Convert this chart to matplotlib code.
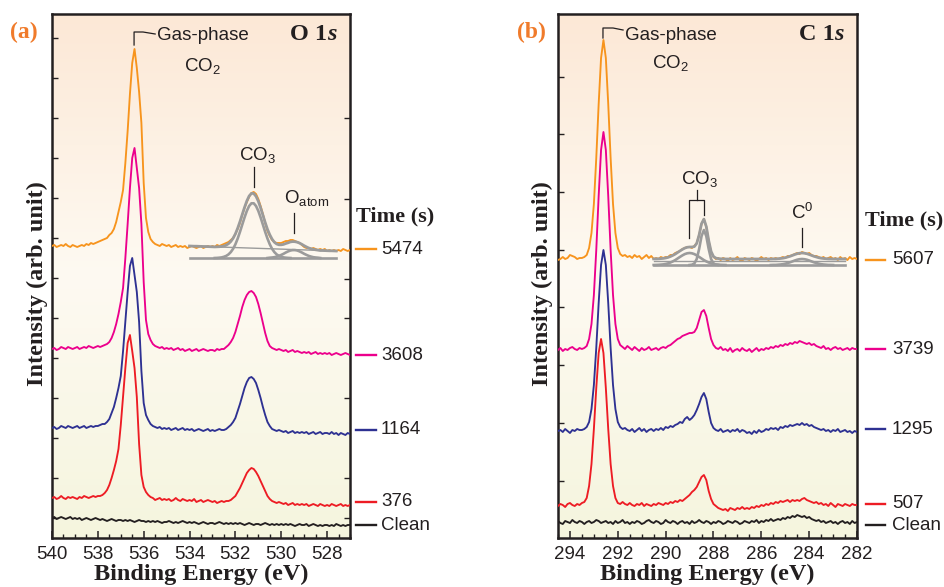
import numpy as np
import matplotlib
matplotlib.use("Agg")
import matplotlib.pyplot as plt
from matplotlib.transforms import blended_transform_factory

plt.rcParams['font.family'] = ['Liberation Sans', 'DejaVu Sans']
plt.rcParams['mathtext.fontset'] = 'custom'
plt.rcParams['mathtext.rm'] = 'Liberation Sans'
plt.rcParams['mathtext.it'] = 'Liberation Sans:italic'
plt.rcParams['mathtext.bf'] = 'Liberation Sans:bold'

# =================== Panel (a): O 1s ===================
o1s_energy = np.round(np.arange(540.0, 526.95, -0.1), 1)      # 540.0 ... 527.0
o1s_labels = ["5474", "3608", "1164", "376", "Clean"]
o1s_5474 = [
    292, 293, 291, 292, 293, 292, 294, 292, 291, 293,
    292, 291, 292, 293, 292, 294, 293, 295, 294, 295,
    296, 297, 298, 299, 300, 303, 305, 309, 316, 326,
    336, 348, 375, 407, 444, 475, 489, 470, 446, 415,
    355, 320, 306, 299, 296, 294, 293, 292, 294, 293,
    292, 293, 291, 292, 293, 291, 292, 291, 292, 290,
    291, 292, 291, 290, 291, 292, 290, 291, 292, 291,
    292, 291, 293, 292, 293, 294, 295, 296, 298, 300,
    304, 309, 315, 323, 330, 336, 341, 345, 346, 344,
    339, 332, 324, 315, 307, 302, 298, 296, 295, 295,
    295, 296, 297, 297, 298, 298, 297, 296, 295, 293,
    291, 290, 290, 289, 290, 289, 288, 289, 288, 289,
    287, 288, 287, 288, 287, 288, 287, 289, 288, 287,
    288]
o1s_3608 = [
    189, 190, 188, 189, 191, 190, 189, 191, 190, 189,
    190, 191, 189, 190, 191, 190, 192, 191, 190, 191,
    192, 191, 192, 193, 194, 196, 200, 206, 214, 224,
    236, 250, 280, 314, 350, 380, 390, 370, 350, 314,
    256, 218, 204, 198, 194, 192, 191, 190, 191, 189,
    190, 189, 190, 188, 189, 190, 188, 189, 187, 188,
    189, 187, 188, 189, 187, 188, 189, 188, 187, 188,
    188, 187, 189, 188, 189, 189, 191, 193, 196, 200,
    206, 214, 222, 231, 238, 243, 246, 247, 245, 241,
    234, 225, 215, 205, 197, 192, 190, 189, 188, 189,
    188, 187, 188, 186, 187, 188, 186, 187, 186, 185,
    186, 185, 186, 184, 185, 186, 184, 185, 184, 185,
    184, 185, 183, 184, 185, 184, 183, 184, 185, 184,
    183]
o1s_1164 = [
    110, 111, 109, 110, 112, 111, 110, 112, 111, 110,
    111, 112, 110, 111, 112, 110, 111, 112, 111, 112,
    112, 113, 114, 114, 116, 119, 125, 131, 140, 150,
    162, 187, 216, 246, 272, 280, 263, 246, 216, 167,
    135, 123, 118, 114, 112, 111, 110, 111, 109, 110,
    109, 110, 108, 109, 110, 108, 109, 110, 108, 109,
    108, 109, 107, 108, 109, 108, 107, 108, 109, 107,
    108, 107, 108, 109, 108, 108, 109, 111, 113, 116,
    120, 127, 134, 142, 150, 156, 160, 161, 159, 155,
    148, 140, 131, 123, 116, 112, 109, 108, 107, 108,
    107, 106, 107, 105, 106, 107, 105, 106, 105, 106,
    105, 106, 104, 105, 106, 104, 105, 106, 104, 105,
    105, 104, 106, 104, 105, 103, 105, 104, 103, 105,
    104]
o1s_376 = [
    40, 41, 39, 40, 42, 40, 39, 41, 40, 41,
    40, 39, 41, 40, 42, 41, 40, 41, 42, 41,
    42, 42, 43, 45, 48, 53, 60, 68, 77, 89,
    113, 141, 170, 195, 203, 187, 170, 141, 94, 63,
    51, 46, 43, 41, 40, 38, 39, 40, 38, 39,
    38, 39, 37, 38, 40, 38, 37, 39, 38, 37,
    38, 37, 39, 36, 37, 38, 36, 37, 38, 37,
    36, 37, 35, 36, 37, 36, 37, 37, 38, 40,
    42, 46, 50, 55, 60, 65, 68, 70, 69, 66,
    62, 57, 52, 47, 42, 39, 37, 36, 35, 36,
    35, 34, 35, 33, 34, 35, 33, 34, 33, 34,
    33, 34, 32, 33, 34, 33, 32, 34, 33, 32,
    33, 32, 34, 33, 32, 33, 34, 32, 33, 32,
    33]
o1s_clean = [
    20, 21, 19, 20, 21, 20, 19, 20, 21, 19,
    20, 19, 20, 18, 19, 20, 19, 18, 19, 20,
    19, 18, 19, 18, 17, 18, 19, 18, 17, 18,
    18, 17, 18, 17, 18, 17, 16, 17, 18, 17,
    17, 16, 17, 16, 17, 16, 17, 16, 15, 16,
    16, 17, 16, 15, 16, 15, 16, 17, 16, 15,
    16, 15, 16, 15, 14, 15, 16, 15, 14, 15,
    15, 14, 15, 16, 15, 14, 15, 14, 15, 14,
    15, 14, 15, 14, 13, 14, 15, 14, 13, 14,
    14, 13, 14, 15, 14, 13, 14, 13, 14, 13,
    14, 13, 14, 13, 14, 13, 12, 13, 14, 13,
    13, 14, 12, 13, 14, 13, 12, 13, 12, 13,
    13, 12, 13, 12, 14, 13, 12, 13, 12, 13,
    13]

# fit of the 5474 s spectrum
o1s_fit_energy = np.round(np.arange(534.0, 527.55, -0.1), 1)  # 534.0 ... 527.6
o1s_fit_envelope = [
    292.0, 291.9, 291.8, 291.8, 291.7, 291.6, 291.5, 291.5, 291.4, 291.3,
    291.2, 291.1, 291.2, 291.3, 291.5, 292.0, 292.9, 294.3, 296.5, 299.7,
    304.1, 309.8, 316.4, 323.6, 330.7, 337.1, 342.0, 344.6, 344.5, 341.7,
    336.8, 330.2, 322.9, 315.5, 308.7, 303.3, 298.9, 295.8, 294.0, 293.2,
    293.2, 293.6, 294.5, 295.2, 296.1, 296.4, 296.3, 295.8, 294.9, 293.7,
    292.3, 291.1, 290.0, 289.3, 288.6, 288.2, 287.9, 287.5, 287.5, 287.4,
    287.3, 287.2, 287.2, 287.1, 287.0]
o1s_fit_bg_energy = [534.0, 527.6]
o1s_fit_bg = [292.0, 287.0]
o1s_comp_base = 280.0
o1s_co3_start = 532.9
o1s_co3_comp = [
    280.0, 280.1, 280.3, 280.6, 281.2, 282.1, 283.6, 285.9, 289.2, 293.7,
    299.4, 306.1, 313.4, 320.6, 327.1, 332.0, 334.7, 334.7, 332.0, 327.1,
    320.6, 313.4, 306.1, 299.4, 293.7, 289.2, 285.9, 283.6, 282.1, 281.2,
    280.6, 280.3, 280.1, 280.0]
o1s_oatom_start = 530.6
o1s_oatom_comp = [
    280.0, 280.3, 280.5, 280.8, 281.4, 282.1, 283.1, 284.2, 285.5, 286.6,
    287.5, 287.9, 287.9, 287.5, 286.6, 285.5, 284.2, 283.1, 282.1, 281.4,
    280.8, 280.5, 280.3, 280.0]

# =================== Panel (b): C 1s ===================
c1s_energy = np.round(np.arange(294.5, 281.95, -0.1), 1)      # 294.5 ... 282.0
c1s_labels = ["5607", "3739", "1295", "507", "Clean"]
c1s_5607 = [
    278, 279, 281, 279, 280, 283, 282, 281, 279, 280,
    280, 281, 283, 290, 305, 334, 380, 434, 480, 498,
    480, 434, 380, 334, 305, 290, 284, 282, 283, 281,
    282, 280, 283, 281, 282, 279, 281, 283, 280, 282,
    279, 280, 279, 281, 280, 281, 281, 283, 283, 285,
    286, 287, 289, 290, 291, 291, 290, 292, 295, 303,
    314, 319, 311, 297, 286, 281, 279, 280, 278, 280,
    279, 277, 280, 278, 279, 281, 278, 277, 280, 279,
    278, 280, 279, 277, 279, 281, 279, 280, 278, 280,
    279, 280, 279, 280, 281, 280, 282, 282, 283, 284,
    285, 284, 286, 285, 284, 285, 283, 282, 282, 281,
    280, 281, 279, 280, 281, 279, 280, 278, 281, 279,
    280, 278, 281, 279, 280, 279]
c1s_3739 = [
    188, 190, 187, 189, 188, 190, 191, 189, 188, 190,
    189, 190, 192, 199, 214, 243, 288, 342, 388, 406,
    388, 342, 288, 243, 214, 199, 193, 191, 189, 192,
    190, 188, 191, 189, 187, 190, 188, 189, 191, 188,
    189, 190, 188, 190, 191, 190, 192, 193, 195, 197,
    199, 200, 202, 203, 204, 205, 205, 206, 210, 218,
    226, 228, 222, 210, 199, 193, 190, 189, 191, 188,
    189, 187, 190, 186, 188, 189, 187, 190, 188, 187,
    189, 186, 188, 190, 187, 189, 188, 190, 189, 191,
    190, 192, 191, 193, 192, 194, 193, 195, 194, 196,
    195, 197, 196, 195, 194, 195, 193, 194, 192, 191,
    190, 192, 189, 190, 188, 190, 191, 189, 190, 188,
    189, 190, 188, 190, 189, 189]
c1s_1295 = [
    107, 108, 106, 109, 107, 105, 108, 107, 109, 108,
    108, 109, 111, 116, 129, 153, 190, 235, 273, 288,
    273, 235, 190, 153, 129, 116, 111, 109, 110, 108,
    107, 109, 106, 108, 110, 107, 109, 106, 108, 109,
    107, 109, 108, 110, 108, 111, 110, 112, 111, 113,
    114, 116, 115, 119, 121, 118, 120, 123, 128, 134,
    141, 145, 139, 126, 115, 110, 108, 107, 109, 106,
    107, 108, 106, 108, 107, 109, 106, 108, 107, 105,
    106, 104, 107, 105, 108, 106, 107, 109, 108, 110,
    109, 110, 108, 111, 110, 112, 111, 113, 112, 113,
    114, 113, 115, 113, 114, 112, 113, 111, 110, 109,
    108, 109, 107, 108, 106, 108, 107, 109, 106, 107,
    108, 106, 107, 105, 107, 106]
c1s_507 = [
    32, 34, 33, 31, 34, 35, 33, 32, 34, 33,
    35, 36, 40, 52, 74, 109, 150, 185, 199, 185,
    150, 109, 74, 52, 40, 35, 34, 36, 34, 33,
    35, 33, 32, 34, 33, 35, 32, 34, 33, 32,
    34, 33, 35, 34, 33, 35, 34, 36, 35, 37,
    36, 38, 37, 39, 41, 43, 46, 48, 51, 56,
    61, 63, 58, 47, 39, 34, 32, 30, 29, 28,
    29, 27, 30, 29, 28, 30, 29, 31, 29, 30,
    29, 31, 30, 32, 31, 33, 32, 34, 33, 35,
    34, 36, 35, 37, 36, 37, 38, 36, 38, 37,
    38, 37, 39, 40, 38, 37, 36, 35, 36, 34,
    35, 33, 34, 32, 35, 33, 31, 34, 33, 32,
    34, 33, 32, 34, 33, 33]
c1s_clean = [
    17, 15, 14, 17, 16, 15, 18, 16, 15, 17,
    16, 14, 16, 17, 15, 16, 18, 17, 15, 16,
    17, 15, 16, 14, 17, 15, 16, 18, 15, 16,
    14, 16, 15, 17, 16, 14, 15, 17, 18, 16,
    15, 17, 16, 14, 15, 18, 16, 15, 17, 16,
    14, 16, 17, 15, 16, 14, 17, 15, 16, 18,
    16, 15, 17, 16, 14, 16, 15, 17, 16, 14,
    15, 17, 16, 15, 17, 16, 14, 15, 17, 16,
    15, 17, 16, 18, 15, 17, 16, 18, 17, 19,
    17, 18, 19, 18, 20, 19, 21, 20, 22, 21,
    23, 22, 21, 22, 20, 21, 19, 18, 17, 18,
    16, 17, 15, 16, 17, 15, 16, 14, 16, 17,
    15, 16, 14, 17, 15, 16]

c1s_fit_energy = np.round(np.arange(290.5, 282.45, -0.1), 1)  # 290.5 ... 282.5
c1s_fit_envelope = [
    279.1, 279.1, 279.2, 279.4, 279.6, 280.0, 280.6, 281.5, 282.6, 283.9,
    285.5, 287.1, 288.6, 289.9, 290.7, 291.0, 291.0, 291.4, 294.6, 303.1,
    314.3, 318.9, 311.4, 297.5, 286.6, 281.5, 279.9, 279.4, 279.2, 279.1,
    279.0, 279.0, 279.0, 279.0, 279.0, 279.0, 279.0, 279.0, 279.0, 279.0,
    279.0, 279.0, 279.0, 279.0, 279.0, 279.0, 279.0, 279.0, 279.0, 279.0,
    279.1, 279.1, 279.3, 279.5, 279.8, 280.3, 281.0, 281.7, 282.6, 283.5,
    284.3, 284.8, 285.0, 284.8, 284.3, 283.5, 282.6, 281.7, 281.0, 280.3,
    279.8, 279.5, 279.3, 279.1, 279.1, 279.0, 279.0, 279.0, 279.0, 279.0,
    279.0]
c1s_fit_bg_energy = [290.5, 282.5]
c1s_fit_bg = [277.0, 277.0]
c1s_comp_base = 273.0
c1s_co3b_start = 290.5
c1s_co3b_comp = [
    273.0, 273.1, 273.2, 273.4, 273.6, 274.0, 274.6, 275.5, 276.6, 277.9,
    279.5, 281.1, 282.6, 283.9, 284.7, 285.0, 284.7, 283.9, 282.6, 281.1,
    279.5, 277.9, 276.6, 275.5, 274.6, 274.0, 273.6, 273.4, 273.2, 273.1,
    273.0]
c1s_co3a_start = 289.0
c1s_co3a_comp = [273.0, 273.3, 274.5, 279.0, 289.0, 301.8, 308.0, 301.8,
                 289.0, 279.0, 274.5, 273.3, 273.0]
c1s_c0_start = 285.6
c1s_c0_comp = [
    273.0, 273.1, 273.1, 273.3, 273.5, 273.8, 274.3, 275.0, 275.7, 276.6,
    277.5, 278.3, 278.8, 279.0, 278.8, 278.3, 277.5, 276.6, 275.7, 275.0,
    274.3, 273.8, 273.5, 273.3, 273.1, 273.1, 273.0]

# =================== styling ===================
line_colors = ["#F7941D", "#EC008C", "#2E3192", "#ED1C24", "#231F20"]
fit_color = "#9B9B9B"
label_orange = "#F07B2B"
spine_color = "#231F20"
txt = '#231F20'
serif = ['Liberation Serif', 'DejaVu Serif']
ann_fs = 13.5

W, H = 944, 587
fig = plt.figure(figsize=(W / 100, H / 100), dpi=100)

def fx(px):
    return px / W

def fy(py):
    return 1 - py / H

ax_a = fig.add_axes([fx(52), fy(538), fx(350) - fx(52), fy(14) - fy(538)])
ax_b = fig.add_axes([fx(558), fy(538), fx(857) - fx(558), fy(14) - fy(538)])

YMAX = 524


def gradient_bg(ax, xlim):
    top = np.array([252, 232, 214]) / 255
    mid = np.array([254, 250, 242]) / 255
    bot = np.array([245, 245, 222]) / 255
    n = 256
    t = np.linspace(0, 1, n)[:, None]
    col = np.where(t < 0.5, top + (mid - top) * (t / 0.5), mid + (bot - mid) * ((t - 0.5) / 0.5))
    img = col[:, None, :]
    ax.imshow(img, extent=[xlim[0], xlim[1], 0, YMAX], aspect='auto',
              origin='upper', zorder=0, interpolation='bilinear')


def style_axes(ax, xlim, major, left_ticks):
    ax.set_xlim(*xlim)
    ax.set_ylim(0, YMAX)
    ax.set_xticks(major)
    ax.set_xticklabels([str(v) for v in major], fontsize=13.5)
    ax.xaxis.set_minor_locator(matplotlib.ticker.MultipleLocator(0.5))
    ax.tick_params(axis='x', which='major', direction='in', length=5, width=1.1,
                   color=spine_color, pad=6, labelcolor=txt)
    ax.tick_params(axis='x', which='minor', direction='in', length=2.6, width=1.0,
                   color=spine_color)
    ax.set_yticks(left_ticks)
    ax.set_yticklabels([])
    ax.tick_params(axis='y', direction='in', length=4, width=1.0, color=spine_color)
    for s in ax.spines.values():
        s.set_color(spine_color)
        s.set_linewidth(1.8)


# ---------------- panel a ----------------
xlim_a = (540.0, 527.0)
gradient_bg(ax_a, xlim_a)
series_a = [o1s_5474, o1s_3608, o1s_1164, o1s_376, o1s_clean]
for vals, c in zip(series_a, line_colors):
    assert len(vals) == len(o1s_energy)
    ax_a.plot(o1s_energy, vals, color=c, lw=1.35, zorder=3)

ax_a.plot(o1s_fit_bg_energy, [o1s_comp_base, o1s_comp_base], color=fit_color, lw=1.9, zorder=4)
co3_e = np.round(o1s_co3_start - 0.1 * np.arange(len(o1s_co3_comp)), 1)
oat_e = np.round(o1s_oatom_start - 0.1 * np.arange(len(o1s_oatom_comp)), 1)
ax_a.plot(co3_e, o1s_co3_comp, color=fit_color, lw=1.9, zorder=4)
ax_a.plot(oat_e, o1s_oatom_comp, color=fit_color, lw=1.9, zorder=4)
ax_a.plot(o1s_fit_bg_energy, o1s_fit_bg, color=fit_color, lw=1.0, zorder=4)
assert len(o1s_fit_envelope) == len(o1s_fit_energy)
ax_a.plot(o1s_fit_energy, o1s_fit_envelope, color=fit_color, lw=2.0, zorder=5)

style_axes(ax_a, xlim_a, [540, 538, 536, 534, 532, 530, 528],
           [20, 60, 100, 140, 180, 220, 260, 300, 340, 380, 420, 460, 500])
ax_a2 = ax_a.twinx()
ax_a2.set_ylim(0, YMAX)
ax_a2.set_yticks([20, 60, 140, 220, 259, 339, 420])
ax_a2.set_yticklabels([])
ax_a2.tick_params(axis='y', direction='in', length=4, width=1.0, color=spine_color)
for s in ax_a2.spines.values():
    s.set_visible(False)

# annotations panel a
k = dict(color=txt, lw=0.9, clip_on=False, zorder=6)
ax_a.plot([536.42, 536.42, 536.03, 535.5], [493, 506, 506, 504], **k)
ax_a.text(535.42, 502, "Gas-phase", fontsize=ann_fs, ha='left', va='center', color=txt)
ax_a.text(533.45, 472, "CO$_2$", fontsize=ann_fs, ha='center', va='center', color=txt)
ax_a.text(531.05, 383, "CO$_3$", fontsize=ann_fs, ha='center', va='center', color=txt)
ax_a.plot([531.2, 531.2], [371, 351], **k)
ax_a.text(529.9, 340, "O$_{\\mathregular{atom}}$", fontsize=ann_fs, ha='left', va='center', color=txt)
ax_a.plot([529.43, 529.43], [325, 305], **k)
ax_a.text(527.99, 503, "O 1", fontsize=17.5, ha='right', va='center', family=serif,
          weight='bold', color=txt)
ax_a.text(527.99, 503, "s", fontsize=17.5, ha='left', va='center', family=serif,
          weight='bold', style='italic', color=txt)

tr_a = blended_transform_factory(ax_a.transAxes, ax_a.transData)
ax_a.text(1.02, 322, "Time (s)", transform=tr_a, fontsize=16, family=serif,
          weight='bold', ha='left', va='center', color=txt)
leg_y_a = [289, 183, 108, 36, 13]
for lab, c, yv in zip(o1s_labels, line_colors, leg_y_a):
    ax_a.plot([1.02, 1.087], [yv, yv], transform=tr_a, color=c, lw=1.7, clip_on=False)
    ax_a.text(1.104, yv, lab, transform=tr_a, fontsize=13.5, ha='left', va='center',
              color=txt)

# ---------------- panel b ----------------
xlim_b = (294.5, 282.0)
gradient_bg(ax_b, xlim_b)
series_b = [c1s_5607, c1s_3739, c1s_1295, c1s_507, c1s_clean]
for vals, c in zip(series_b, line_colors):
    assert len(vals) == len(c1s_energy)
    ax_b.plot(c1s_energy, vals, color=c, lw=1.35, zorder=3)

ax_b.plot(c1s_fit_bg_energy, [c1s_comp_base, c1s_comp_base], color=fit_color, lw=1.9, zorder=4)
ax_b.plot(c1s_fit_bg_energy, c1s_fit_bg, color=fit_color, lw=1.0, zorder=4)
for st, comp in [(c1s_co3b_start, c1s_co3b_comp), (c1s_co3a_start, c1s_co3a_comp),
                 (c1s_c0_start, c1s_c0_comp)]:
    e = np.round(st - 0.1 * np.arange(len(comp)), 1)
    ax_b.plot(e, comp, color=fit_color, lw=1.9, zorder=4)
assert len(c1s_fit_envelope) == len(c1s_fit_energy)
ax_b.plot(c1s_fit_energy, c1s_fit_envelope, color=fit_color, lw=2.0, zorder=5)

style_axes(ax_b, xlim_b, [294, 292, 290, 288, 286, 284, 282],
           [57, 115, 173, 231, 288, 346, 404, 461])

ax_b.plot([292.62, 292.62, 292.2, 291.78], [500, 510, 510, 508], **k)
ax_b.text(291.7, 503, "Gas-phase", fontsize=ann_fs, ha='left', va='center', color=txt)
ax_b.text(289.81, 475, "CO$_2$", fontsize=ann_fs, ha='center', va='center', color=txt)
ax_b.text(288.6, 359, "CO$_3$", fontsize=ann_fs, ha='center', va='center', color=txt)
ax_b.plot([288.68, 288.68], [348, 338], **k)
ax_b.plot([289.02, 289.02, 288.39, 288.39], [300, 338, 338, 323], **k)
ax_b.text(284.27, 325, "C$^0$", fontsize=ann_fs, ha='center', va='center', color=txt)
ax_b.plot([284.29, 284.29], [310, 291], **k)
ax_b.text(282.95, 503, "C 1", fontsize=17.5, ha='right', va='center', family=serif,
          weight='bold', color=txt)
ax_b.text(282.95, 503, "s", fontsize=17.5, ha='left', va='center', family=serif,
          weight='bold', style='italic', color=txt)

tr_b = blended_transform_factory(ax_b.transAxes, ax_b.transData)
ax_b.text(1.027, 318, "Time (s)", transform=tr_b, fontsize=16, family=serif,
          weight='bold', ha='left', va='center', color=txt)
leg_y_b = [278, 189, 109, 34, 13]
for lab, c, yv in zip(c1s_labels, line_colors, leg_y_b):
    ax_b.plot([1.030, 1.094], [yv, yv], transform=tr_b, color=c, lw=1.7, clip_on=False)
    ax_b.text(1.117, yv, lab, transform=tr_b, fontsize=13.5, ha='left', va='center',
              color=txt)

# panel letters and axis titles
fig.text(fx(24), fy(32), "(a)", fontsize=17, family=serif, weight='bold',
         color=label_orange, ha='center', va='center')
fig.text(fx(531), fy(32), "(b)", fontsize=17, family=serif, weight='bold',
         color=label_orange, ha='center', va='center')
for cx in (201, 707):
    fig.text(fx(cx), fy(580), "Binding Energy (eV)", fontsize=17.5, family=serif,
             weight='bold', ha='center', va='baseline', color=txt)
for cx in (37, 542):
    fig.text(fx(cx), fy(284), "Intensity (arb. unit)", fontsize=17.5, family=serif,
             weight='bold', ha='center', va='center', rotation=90, color=txt)

fig.savefig("out.png", dpi=100)
